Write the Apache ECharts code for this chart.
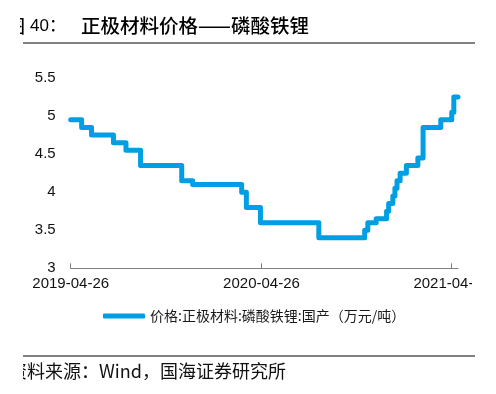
<!DOCTYPE html>
<html>
<head>
<meta charset="utf-8">
<script src="https://cdn.jsdelivr.net/npm/echarts@6/dist/echarts.min.js"></script>
<style>
html,body{margin:0;padding:0;background:#fff;}
#c{width:496px;height:394px;}
</style>
</head>
<body>
<div id="c"></div>
<script>
// Step-change dates and the price (万元/吨) that holds from each date
var changeDates = ['2019-04-26','2019-05-17','2019-06-05','2019-07-17','2019-08-10','2019-09-07',
  '2019-11-25','2019-12-16','2020-03-19','2020-03-28','2020-04-24','2020-08-14',
  '2020-11-10','2020-11-16','2020-12-02','2020-12-22','2020-12-26','2021-01-03',
  '2021-01-07','2021-01-11','2021-01-17','2021-01-29','2021-02-20','2021-03-02',
  '2021-04-05','2021-04-26','2021-04-30','2021-05-08'];
var prices = [4.95,4.85,4.75,4.65,4.55,4.35,
  4.15,4.10,4.00,3.80,3.60,3.40,
  3.50,3.60,3.65,3.75,3.85,3.95,
  4.05,4.15,4.25,4.35,4.45,4.85,
  4.95,5.05,5.25,5.25];
var xTickLabels = ['2019-04-26','2020-04-26','2021-04-26'];
var axisStart = '2019-04-26';
var axisEnd = '2021-05-08';
var seriesName = '价格:正极材料:磷酸铁锂:国产（万元/吨）';

function toTs(s){ var p = s.split('-'); return Date.UTC(+p[0], +p[1]-1, +p[2]); }
function pad(n){ return (n<10?'0':'')+n; }
function fmt(v){ var d = new Date(v); return d.getUTCFullYear()+'-'+pad(d.getUTCMonth()+1)+'-'+pad(d.getUTCDate()); }

var data = changeDates.map(function(d,i){ return [toTs(d), prices[i]]; });
var tickVals = xTickLabels.map(toTs);

var chart = echarts.init(document.getElementById('c'));
chart.setOption({
  animation: false,
  backgroundColor: '#fff',
  grid: { left: 70.7, right: 38, top: 78, bottom: 125.7, containLabel: false },
  legend: {
    data: [seriesName],
    left: 98, top: 304,
    icon: 'roundRect', itemWidth: 42, itemHeight: 5,
    textStyle: { fontFamily: 'Noto Sans CJK SC', fontSize: 14, color: '#1a1a1a' }
  },
  xAxis: {
    type: 'value',
    min: toTs(axisStart), max: toTs(axisEnd),
    axisLine: { show: true, lineStyle: { color: '#808080', width: 1 } },
    axisTick: { show: true, inside: true, length: 5, lineStyle: { color: '#808080' }, customValues: tickVals },
    axisLabel: {
      customValues: tickVals, formatter: function(v){ return fmt(v); },
      fontFamily: 'Liberation Sans', fontSize: 15, color: '#111', margin: 8
    },
    splitLine: { show: false }
  },
  yAxis: {
    type: 'value', min: 3, max: 5.5, interval: 0.5,
    axisLine: { show: false }, axisTick: { show: false },
    splitLine: { show: false },
    axisLabel: { fontFamily: 'Liberation Sans', fontSize: 15, color: '#111', margin: 15 }
  },
  series: [{
    name: seriesName, type: 'line', step: 'end',
    data: data, symbol: 'none',
    lineStyle: { color: '#009FE3', width: 5, join: 'round', cap: 'round' },
    itemStyle: { color: '#009FE3' }
  }],
  graphic: [
    { type: 'text', left: 7, top: 17, z: 10,
      style: { text: '图', fontFamily: 'Noto Sans CJK SC', fontSize: 18, fontWeight: 500, fill: '#000' } },
    { type: 'text', left: 30, top: 18, z: 10,
      style: { text: '40：', fontFamily: 'Liberation Sans, Noto Sans CJK SC', fontSize: 17, fill: '#000' } },
    { type: 'text', left: 81, top: 16, z: 10,
      style: { text: '正极材料价格——磷酸铁锂', fontFamily: 'Noto Sans CJK SC', fontSize: 19.5, fontWeight: 500, fill: '#000' } },
    { type: 'rect', shape: { x: 0, y: 10, width: 20, height: 30 }, style: { fill: '#fff' }, z: 20 },
    { type: 'line', shape: { x1: 23, y1: 43, x2: 475, y2: 43 }, style: { stroke: '#808080', lineWidth: 2 }, z: 10 },
    { type: 'line', shape: { x1: 23, y1: 356, x2: 475, y2: 356 }, style: { stroke: '#808080', lineWidth: 2 }, z: 10 },
    { type: 'text', left: 9, top: 362, z: 10,
      style: { text: '资料来源：Wind，国海证券研究所', fontFamily: 'Noto Sans CJK SC', fontSize: 18, fill: '#111' } },
    { type: 'rect', shape: { x: 0, y: 358, width: 23, height: 30 }, style: { fill: '#fff' }, z: 20 },
    { type: 'rect', shape: { x: 472, y: 272, width: 24, height: 24 }, style: { fill: '#fff' }, z: 20 }
  ]
});
</script>
</body>
</html>
